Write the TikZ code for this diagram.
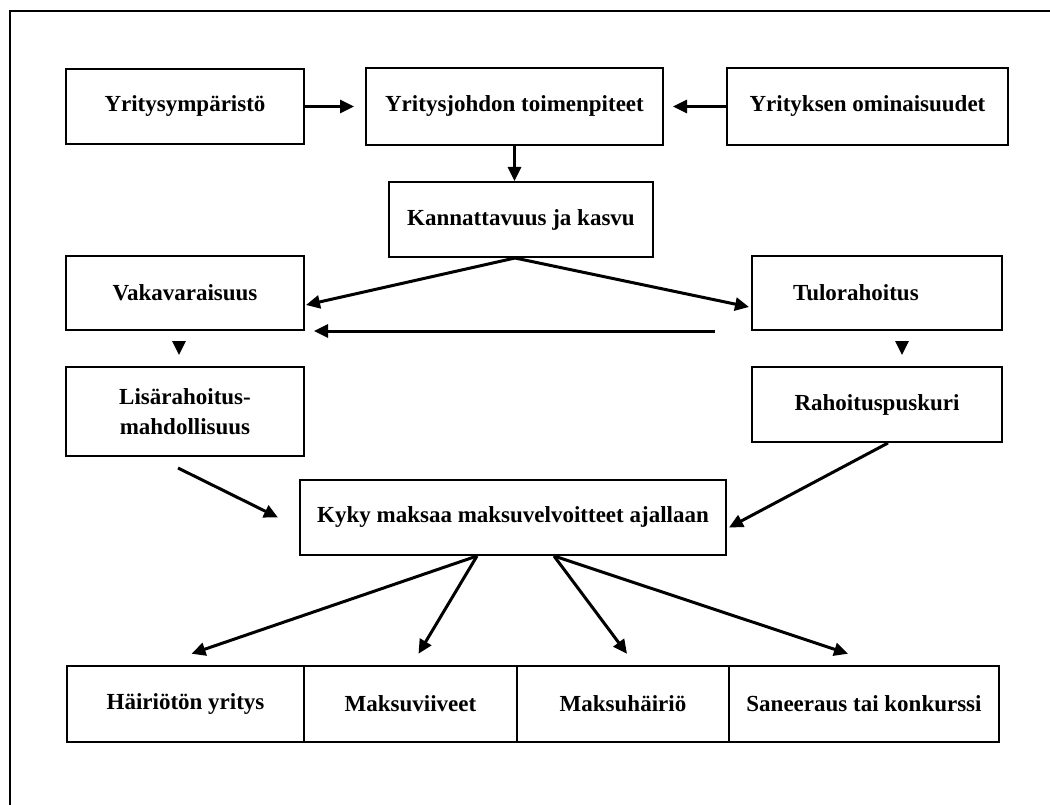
\documentclass[tikz,border=0pt]{standalone}
\usepackage{fontspec}
\setmainfont{Liberation Serif}
\usetikzlibrary{arrows.meta,positioning,calc}

\begin{document}
\begin{tikzpicture}[x=1pt, y=-1pt, >={Triangle[length=14pt,width=13pt]},
  box/.style={draw, line width=2pt, inner sep=0pt, align=center, font=\fontsize{23}{30}\selectfont\bfseries},
  flow/.style={->, line width=3pt}]
\useasboundingbox (0,0) rectangle (1050,805);
\draw[line width=2.5pt] (10,805) -- (10,11) -- (1050,11);
% top row
\node[box, minimum width=238pt, minimum height=75pt] (env) at (185,106.5) {Yritysympäristö};
\node[box, minimum width=297pt, minimum height=77pt] (mgmt) at (514.5,106.5) {Yritysjohdon toimenpiteet};
\node[box, minimum width=281pt, minimum height=77pt] (props) at (867.5,106.5) {Yrityksen ominaisuudet};
\node[box, minimum width=264pt, minimum height=75pt] (profit) at (521,219.5) {Kannattavuus ja kasvu};
% sides
\node[box, minimum width=238pt, minimum height=74pt] (solv) at (185,293) {Vakavaraisuus};
\node[box, minimum height=74pt, text width=168pt, align=left, inner xsep=41pt] (income) at (877,293) {Tulorahoitus};
\node[box, minimum width=238pt, minimum height=89pt] (extra) at (185,411.5) {Lisärahoitus-\\mahdollisuus};
\node[box, minimum width=250pt, minimum height=75pt] (buffer) at (877,404.5) {Rahoituspuskuri};
\node[box, minimum width=426pt, minimum height=75pt] (ability) at (513,517.5) {Kyky maksaa maksuvelvoitteet ajallaan};
% bottom row
\foreach \n/\x/\w/\l in {r1/185.5/237/Häiriötön yritys, r2/410.5/213/Maksuviiveet, r3/623/212/Maksuhäiriö, r4/864/270/Saneeraus tai konkurssi}
  {\node[box, line width=2.5pt, minimum width=\w pt, minimum height=76pt] (\n) at (\x,704) {\l};}

\draw[flow, shorten >=11pt] (env) -- (mgmt);
\draw[flow, shorten >=9pt] (props) -- (mgmt);
\draw[flow] (mgmt.south) -- (mgmt.south |- profit.north);
\coordinate (split) at ($(profit.south)+(-6,0)$);
\draw[flow] (split) -- ($(solv.east)+(1,12)$);
\draw[flow] (split) -- ($(income.west)+(-2,14)$);
\coordinate (backStart) at ($(income.south west)+(-36,0)$);
\coordinate (backEnd) at ($(solv.south east)+(9,0)$);
\draw[flow] (backStart) -- (backEnd);
\draw[flow, shorten <=12pt, shorten >=11pt] ($(solv.south)+(-6,0)$) -- ($(extra.north)+(-6,0)$);
\draw[flow, shorten <=12pt, shorten >=11pt] ($(income.south)+(25,0)$) -- ($(buffer.north)+(25,0)$);
\draw[flow] ($(extra.south)+(-7,11)$) -- ($(ability.west)+(-21,0)$);
\draw[flow] ($(buffer.south)+(11,0)$) -- ($(ability.east)+(2,10)$);
\coordinate (outL) at ($(ability.south)+(-36,0)$);
\coordinate (outR) at ($(ability.south)+(41,0)$);
\draw[flow] (outL) -- ($(r1.north)+(6,-11)$);
\draw[flow] (outL) -- ($(r2.north)+(8,-11)$);
\draw[flow] (outR) -- ($(r3.north)+(4,-11)$);
\draw[flow] (outR) -- ($(r4.north)+(-16,-11)$);
\end{tikzpicture}
\end{document}
